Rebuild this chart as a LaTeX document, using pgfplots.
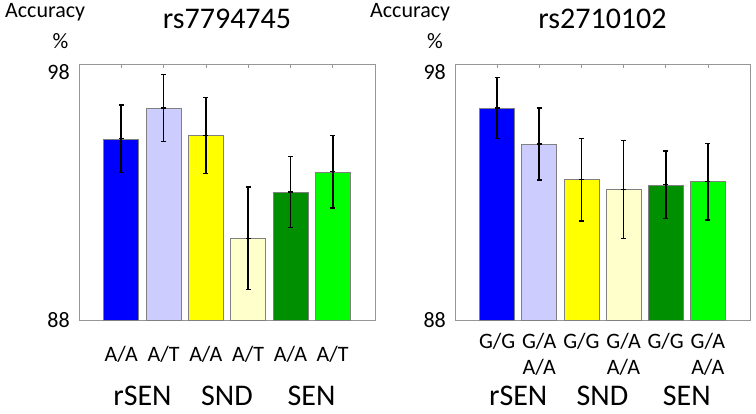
\documentclass[border=0pt]{standalone}
\usepackage{pgfplots}
\pgfplotsset{compat=1.18}
\usepackage{fontspec}
\setmainfont{Carlito}
\definecolor{c1}{RGB}{0,0,255}
\definecolor{c2}{RGB}{204,204,255}
\definecolor{c3}{RGB}{255,255,0}
\definecolor{c4}{RGB}{255,255,204}
\definecolor{c5}{RGB}{0,143,0}
\definecolor{c6}{RGB}{0,255,0}
\definecolor{framegray}{RGB}{150,150,150}
\pgfplotsset{
  mybar/.style={ybar, bar width=35pt, bar shift=0pt, draw=gray, line width=0.6pt,
    mark=-, mark size=2.5pt, mark options={black, line width=1.2pt, fill=black},
    error bars/y dir=both, error bars/y explicit,
    error bars/error mark=|,
    error bars/error bar style={black, line width=1.7pt},
    error bars/error mark options={black, line width=1.3pt, mark size=2.5pt}},
  mypanel/.style={
    scale only axis, width=296pt, height=255.5pt,
    anchor=south west, clip=false,
    xmin=0, xmax=7, ymin=88, ymax=98,
    axis line style={framegray, line width=0.8pt},
    xtick={1,2,3,4,5,6}, xtick pos=upper, ytick={88},
    extra y ticks={98},
    extra y tick style={yticklabel style={anchor=north east}},
    ytick style={draw=none},
    tick align=inside, major tick length=4pt,
    xtick style={framegray, line width=0.6pt},
    /pgf/number format/assume math mode=true,
    yticklabel style={font=\fontsize{22}{26}\selectfont, anchor=east, inner sep=0pt, xshift=-9pt},
    xticklabel pos=lower,
    xticklabel style={font=\fontsize{22}{26}\selectfont, anchor=center, align=center, yshift=-34.5pt},
    title style={font=\fontsize{30}{36}\selectfont, anchor=base, at={(0.5,1)}, yshift=29.5pt},
  }
}
\begin{document}
\begin{tikzpicture}
\path[use as bounding box] (0,0) rectangle (756pt,414pt);
% left panel
\begin{axis}[mypanel, at={(79pt,94pt)}, title={rs7794745},
  xticklabels={A/A,A/T,A/A,A/T,A/A,A/T}]
\addplot[mybar, fill=c1] coordinates {(1,95.09) +- (0,1.32)};
\addplot[mybar, fill=c2] coordinates {(2,96.30) +- (0,1.31)};
\addplot[mybar, fill=c3] coordinates {(3,95.22) +- (0,1.50)};
\addplot[mybar, fill=c4] coordinates {(4,91.20) +- (0,2.00)};
\addplot[mybar, fill=c5] coordinates {(5,93.01) +- (0,1.40)};
\addplot[mybar, fill=c6] coordinates {(6,93.80) +- (0,1.42)};
\node[anchor=base west, font=\fontsize{22}{26}\selectfont, inner sep=0pt, xshift=-74pt, yshift=47pt] at (rel axis cs:0,1) {Accuracy};
\node[anchor=base, font=\fontsize{22}{26}\selectfont, inner sep=0pt, xshift=-18.5pt, yshift=16.2pt] at (rel axis cs:0,1) {\%};
\node[anchor=base, font=\fontsize{30}{36}\selectfont, inner sep=0pt, yshift=-86pt] at (axis cs:1.5,88) {rSEN};
\node[anchor=base, font=\fontsize{30}{36}\selectfont, inner sep=0pt, yshift=-86pt] at (axis cs:3.5,88) {SND};
\node[anchor=base, font=\fontsize{30}{36}\selectfont, inner sep=0pt, yshift=-86pt] at (axis cs:5.5,88) {SEN};
\end{axis}
% right panel
\begin{axis}[mypanel, at={(455pt,94pt)}, width=295pt, title={rs2710102},
  xticklabels={{G/G\\\phantom{A/A}},{G/A\\A/A},{G/G\\\phantom{A/A}},{G/A\\A/A},{G/G\\\phantom{A/A}},{G/A\\A/A}}]
\addplot[mybar, fill=c1] coordinates {(1,96.30) +- (0,1.20)};
\addplot[mybar, fill=c2] coordinates {(2,94.89) +- (0,1.41)};
\addplot[mybar, fill=c3] coordinates {(3,93.49) +- (0,1.61)};
\addplot[mybar, fill=c4] coordinates {(4,93.10) +- (0,1.92)};
\addplot[mybar, fill=c5] coordinates {(5,93.29) +- (0,1.32)};
\addplot[mybar, fill=c6] coordinates {(6,93.41) +- (0,1.50)};
\node[anchor=base west, font=\fontsize{22}{26}\selectfont, inner sep=0pt, xshift=-85pt, yshift=47pt] at (rel axis cs:0,1) {Accuracy};
\node[anchor=base, font=\fontsize{22}{26}\selectfont, inner sep=0pt, xshift=-20pt, yshift=16.2pt] at (rel axis cs:0,1) {\%};
\node[anchor=base, font=\fontsize{30}{36}\selectfont, inner sep=0pt, yshift=-86pt] at (axis cs:1.5,88) {rSEN};
\node[anchor=base, font=\fontsize{30}{36}\selectfont, inner sep=0pt, yshift=-86pt] at (axis cs:3.5,88) {SND};
\node[anchor=base, font=\fontsize{30}{36}\selectfont, inner sep=0pt, yshift=-86pt] at (axis cs:5.5,88) {SEN};
\end{axis}
\end{tikzpicture}
\end{document}
